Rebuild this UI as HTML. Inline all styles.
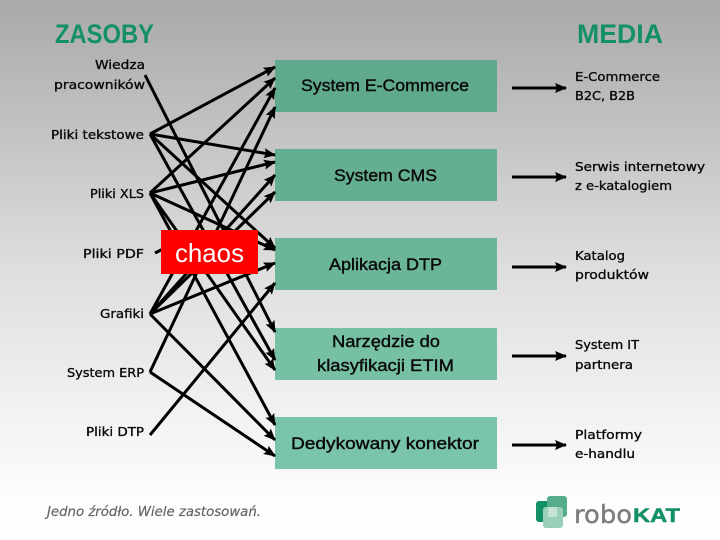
<!DOCTYPE html>
<html><head><meta charset="utf-8"><style>
html,body{margin:0;padding:0;width:720px;height:540px;overflow:hidden;background:#fff}
svg{display:block}
text{font-family:"Liberation Sans",sans-serif;fill:#0a0a0a}
.l{font-family:"DejaVu Sans",sans-serif;font-size:12.5px;stroke:#0a0a0a;stroke-width:.35px}
.b{font-size:17px;stroke:#0a0a0a;stroke-width:.4px}
.h{font-size:27px;font-weight:bold;fill:#149068}
</style></head><body>
<svg width="720" height="540" viewBox="0 0 720 540" xmlns="http://www.w3.org/2000/svg">
<defs>
<linearGradient id="bg" x1="0" y1="0" x2="0" y2="1"><stop offset="0" stop-color="#a9a9a9"/><stop offset=".5" stop-color="#dedede"/><stop offset=".92" stop-color="#fdfdfd"/><stop offset="1" stop-color="#fff"/></linearGradient>
<marker id="a" markerWidth="12" markerHeight="11" refX="11" refY="5.5" orient="auto" markerUnits="userSpaceOnUse"><path d="M0 0.5L12 5.5L0 10.5L2 5.5Z" fill="#000"/></marker>
</defs>
<rect width="720" height="540" fill="url(#bg)"/>
<rect x="275" y="60" width="222" height="52" fill="#5fa98d"/><rect x="275" y="149" width="222" height="52" fill="#64ae92"/><rect x="275" y="238" width="222" height="52" fill="#6bb699"/><rect x="275" y="328" width="222" height="52" fill="#76c0a4"/><rect x="275" y="417" width="222" height="52" fill="#7ac5a9"/>
<g stroke="#000" stroke-width="3" fill="none">
<line x1="145" y1="75" x2="275" y2="332" marker-end="url(#a)"/>
<line x1="150" y1="134" x2="275" y2="67" marker-end="url(#a)"/>
<line x1="150" y1="134" x2="275" y2="155" marker-end="url(#a)"/>
<line x1="150" y1="134" x2="275" y2="248" marker-end="url(#a)"/>
<line x1="150" y1="134" x2="275" y2="360" marker-end="url(#a)"/>
<line x1="150" y1="193" x2="275" y2="78" marker-end="url(#a)"/>
<line x1="150" y1="193" x2="275" y2="162" marker-end="url(#a)"/>
<line x1="150" y1="193" x2="275" y2="250" marker-end="url(#a)"/>
<line x1="150" y1="193" x2="275" y2="370" marker-end="url(#a)"/>
<line x1="150" y1="193" x2="275" y2="425" marker-end="url(#a)"/>
<line x1="150" y1="314" x2="275" y2="88" marker-end="url(#a)"/>
<line x1="150" y1="314" x2="275" y2="175" marker-end="url(#a)"/>
<line x1="150" y1="314" x2="275" y2="192" marker-end="url(#a)"/>
<line x1="150" y1="314" x2="275" y2="263" marker-end="url(#a)"/>
<line x1="150" y1="314" x2="275" y2="440" marker-end="url(#a)"/>
<line x1="150" y1="372" x2="275" y2="107" marker-end="url(#a)"/>
<line x1="150" y1="372" x2="275" y2="456" marker-end="url(#a)"/>
<line x1="150" y1="435" x2="275" y2="283" marker-end="url(#a)"/>
<line x1="155" y1="253" x2="175" y2="243"/>
<line x1="512" y1="88" x2="566" y2="88" marker-end="url(#a)"/>
<line x1="512" y1="177" x2="566" y2="177" marker-end="url(#a)"/>
<line x1="512" y1="267" x2="566" y2="267" marker-end="url(#a)"/>
<line x1="512" y1="356" x2="566" y2="356" marker-end="url(#a)"/>
<line x1="512" y1="445" x2="566" y2="445" marker-end="url(#a)"/>
</g>
<rect x="161" y="230" width="97" height="44" fill="#f00"/>
<text x="175" y="262" font-size="26" style="fill:#fff" textLength="69" lengthAdjust="spacingAndGlyphs">chaos</text>
<text class="h" x="55" y="43" textLength="99" lengthAdjust="spacingAndGlyphs">ZASOBY</text>
<text class="h" x="577" y="43" textLength="86" lengthAdjust="spacingAndGlyphs">MEDIA</text>
<text class="l" x="95" y="69" textLength="50" lengthAdjust="spacingAndGlyphs">Wiedza</text>
<text class="l" x="54" y="89" textLength="91" lengthAdjust="spacingAndGlyphs">pracowników</text>
<text class="l" x="51" y="139" textLength="93" lengthAdjust="spacingAndGlyphs">Pliki tekstowe</text>
<text class="l" x="90" y="198" textLength="54" lengthAdjust="spacingAndGlyphs">Pliki XLS</text>
<text class="l" x="83" y="258" textLength="61" lengthAdjust="spacingAndGlyphs">Pliki  PDF</text>
<text class="l" x="100" y="318" textLength="44" lengthAdjust="spacingAndGlyphs">Grafiki</text>
<text class="l" x="67" y="377" textLength="77" lengthAdjust="spacingAndGlyphs">System ERP</text>
<text class="l" x="86" y="436" textLength="58" lengthAdjust="spacingAndGlyphs">Pliki DTP</text>
<text class="b" x="301" y="91" textLength="168" lengthAdjust="spacingAndGlyphs">System E-Commerce</text>
<text class="b" x="334" y="181" textLength="103" lengthAdjust="spacingAndGlyphs">System CMS</text>
<text class="b" x="329" y="270" textLength="113" lengthAdjust="spacingAndGlyphs">Aplikacja DTP</text>
<text class="b" x="332" y="347" textLength="108" lengthAdjust="spacingAndGlyphs">Narzędzie do</text>
<text class="b" x="317" y="371" textLength="137" lengthAdjust="spacingAndGlyphs">klasyfikacji ETIM</text>
<text class="b" x="291" y="449" textLength="188" lengthAdjust="spacingAndGlyphs">Dedykowany konektor</text>
<text class="l" x="575" y="81" textLength="85" lengthAdjust="spacingAndGlyphs">E-Commerce</text>
<text class="l" x="575" y="100" textLength="60" lengthAdjust="spacingAndGlyphs">B2C, B2B</text>
<text class="l" x="575" y="171" textLength="130" lengthAdjust="spacingAndGlyphs">Serwis internetowy</text>
<text class="l" x="575" y="190" textLength="97" lengthAdjust="spacingAndGlyphs">z e-katalogiem</text>
<text class="l" x="575" y="260" textLength="50" lengthAdjust="spacingAndGlyphs">Katalog</text>
<text class="l" x="575" y="279" textLength="74" lengthAdjust="spacingAndGlyphs">produktów</text>
<text class="l" x="575" y="349" textLength="64" lengthAdjust="spacingAndGlyphs">System IT</text>
<text class="l" x="575" y="369" textLength="58" lengthAdjust="spacingAndGlyphs">partnera</text>
<text class="l" x="575" y="439" textLength="67" lengthAdjust="spacingAndGlyphs">Platformy</text>
<text class="l" x="575" y="458" textLength="60" lengthAdjust="spacingAndGlyphs">e-handlu</text>
<text x="47" y="516" font-size="13" font-style="italic" style="font-family:'DejaVu Sans',sans-serif;fill:#666;stroke:#666;stroke-width:.2px" textLength="214" lengthAdjust="spacingAndGlyphs">Jedno źródło. Wiele zastosowań.</text>
<rect x="536" y="501" width="20" height="21" rx="3" fill="#149068"/>
<rect x="547" y="496" width="20" height="21" rx="3" fill="#55ad8c"/>
<rect x="543" y="507" width="20" height="21" rx="3" fill="#9ad0ba"/>
<rect x="548" y="507" width="9" height="10" fill="#c6e3d6"/>
<text x="574" y="523" font-size="25" style="font-family:'DejaVu Sans',sans-serif;fill:#7d7d7d;stroke:#7d7d7d;stroke-width:.4px" textLength="58" lengthAdjust="spacingAndGlyphs">robo</text>
<text x="633" y="522" font-size="19" font-weight="bold" style="fill:#149068;stroke:#149068;stroke-width:.5px" textLength="47" lengthAdjust="spacingAndGlyphs">KAT</text>
</svg>
</body></html>
